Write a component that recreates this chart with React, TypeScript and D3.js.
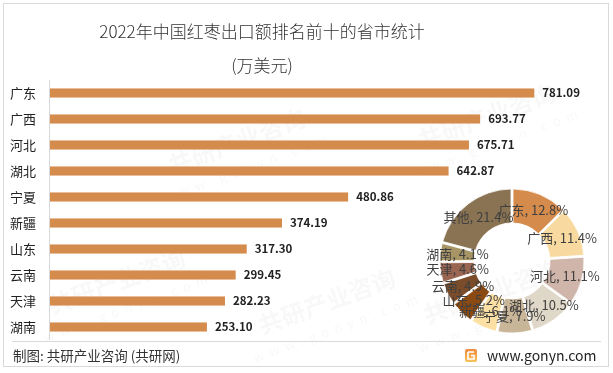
import { useEffect, useRef } from 'react';
import * as d3 from 'd3';

const provinces = ['广东', '广西', '河北', '湖北', '宁夏', '新疆', '山东', '云南', '天津', '湖南'];
const exportValues = [781.09, 693.77, 675.71, 642.87, 480.86, 374.19, 317.3, 299.45, 282.23, 253.1];

const shareNames = ['广东', '广西', '河北', '湖北', '宁夏', '新疆', '山东', '云南', '天津', '湖南', '其他'];
const sharePercents = [12.8, 11.4, 11.1, 10.5, 7.9, 6.1, 5.2, 4.9, 4.6, 4.1, 21.4];
const shareColors = ['#d48b4c', '#f8d9a0', '#d0b5aa', '#dfd7c7', '#c9b598', '#fcdfa3', '#8b4a12', '#7a4c2a', '#9a6652', '#a89565', '#8a7352'];

const width = 613;
const height = 373;
const font = '"Noto Sans CJK SC", "Noto Sans", sans-serif';

const App = () => {
  const ref = useRef<SVGSVGElement>(null);

  useEffect(() => {
    const svg = d3.select(ref.current);
    svg.selectAll('*').remove();

    // faint watermarks
    const wm = svg.append('g').attr('fill', '#000').attr('opacity', 0.03).attr('font-family', font);
    const spots = [[240, 150], [490, 125], [120, 290], [330, 310], [495, 300]];
    spots.forEach(([x, y]) => {
      wm.append('text')
        .attr('x', x).attr('y', y)
        .attr('transform', `rotate(-20, ${x}, ${y})`)
        .attr('font-size', 24).attr('font-weight', 'bold')
        .attr('text-anchor', 'middle')
        .text('共研产业咨询');
      wm.append('text')
        .attr('x', x + 10).attr('y', y + 22)
        .attr('transform', `rotate(-20, ${x + 10}, ${y + 22})`)
        .attr('font-size', 13).attr('letter-spacing', 6)
        .attr('text-anchor', 'middle')
        .text('www.gonyn.com');
    });

    // frame
    svg.append('rect')
      .attr('x', 3.5).attr('y', 3.5).attr('width', 605).attr('height', 363)
      .attr('fill', 'none').attr('stroke', '#d9d9d9');

    // title
    const title = svg.append('g').attr('font-family', font).attr('fill', '#333').attr('text-anchor', 'middle').attr('font-weight', 300);
    title.append('text').attr('x', 262).attr('y', 38).attr('font-size', 17).text('2022年中国红枣出口额排名前十的省市统计');
    title.append('text').attr('x', 262).attr('y', 72).attr('font-size', 17).text('(万美元)');

    // bars
    const x = d3.scaleLinear().domain([0, 900]).range([50, 608]);
    const y = d3.scaleBand().domain(provinces).range([80, 340]).paddingInner(0.65).paddingOuter(0.325);

    svg.append('line')
      .attr('x1', 49.5).attr('x2', 49.5).attr('y1', 80).attr('y2', 340)
      .attr('stroke', '#d9d9d9');

    const bars = svg.append('g');
    bars.selectAll('rect')
      .data(provinces)
      .join('rect')
      .attr('x', x(0))
      .attr('y', (d) => y(d)!)
      .attr('width', (d, i) => x(exportValues[i]) - x(0))
      .attr('height', y.bandwidth())
      .attr('fill', '#d48b4c');

    bars.selectAll('text.val')
      .data(provinces)
      .join('text')
      .attr('class', 'val')
      .attr('x', (d, i) => x(exportValues[i]) + 8)
      .attr('y', (d) => y(d)! + y.bandwidth() / 2)
      .attr('dy', '0.35em')
      .attr('font-family', font)
      .attr('font-size', 11.5)
      .attr('font-weight', 'bold')
      .attr('fill', '#222')
      .text((d, i) => exportValues[i].toFixed(2));

    bars.selectAll('text.cat')
      .data(provinces)
      .join('text')
      .attr('class', 'cat')
      .attr('x', 10)
      .attr('y', (d) => y(d)! + y.bandwidth() / 2)
      .attr('dy', '0.35em')
      .attr('font-family', font)
      .attr('font-size', 13)
      .attr('fill', '#222')
      .text((d) => d);

    // donut
    const pie = d3.pie<number>().sort(null).padAngle(0.025);
    const arcs = pie(sharePercents);
    const arc = d3.arc<d3.PieArcDatum<number>>().innerRadius(38).outerRadius(72);
    const donut = svg.append('g').attr('transform', 'translate(512, 261)');
    donut.selectAll('path')
      .data(arcs)
      .join('path')
      .attr('d', arc)
      .attr('fill', (d, i) => shareColors[i])
      .attr('stroke', '#fff')
      .attr('stroke-width', 0.8);
    donut.selectAll('text')
      .data(arcs)
      .join('text')
      .attr('transform', (d) => `translate(${arc.centroid(d)})`)
      .attr('text-anchor', 'middle')
      .attr('dy', '0.35em')
      .attr('font-family', font)
      .attr('font-size', 13)
      .attr('fill', '#404040')
      .text((d, i) => `${shareNames[i]}, ${sharePercents[i].toFixed(1)}%`);

    // footer
    svg.append('line')
      .attr('x1', 12).attr('x2', 601).attr('y1', 341.5).attr('y2', 341.5)
      .attr('stroke', '#d9d9d9');
    svg.append('text')
      .attr('x', 13).attr('y', 356).attr('dy', '0.35em')
      .attr('font-family', font).attr('font-size', 13.5).attr('fill', '#333')
      .text('制图: 共研产业咨询 (共研网)');

    const grad = svg.append('defs').append('linearGradient')
      .attr('id', 'logoGrad').attr('x1', 0).attr('y1', 0).attr('x2', 0).attr('y2', 1);
    grad.append('stop').attr('offset', '0%').attr('stop-color', '#f08a3c');
    grad.append('stop').attr('offset', '100%').attr('stop-color', '#f7c35a');
    const logo = svg.append('g').attr('transform', 'translate(465, 349)');
    logo.append('rect').attr('width', 12).attr('height', 13).attr('rx', 2).attr('fill', 'url(#logoGrad)');
    logo.append('path').attr('d', 'M3,3 H9 M3,3 V10 H9 V6.5 H6').attr('stroke', '#fff').attr('stroke-width', 1.6).attr('fill', 'none');
    svg.append('text')
      .attr('x', 487).attr('y', 356).attr('dy', '0.35em')
      .attr('font-family', font).attr('font-size', 14).attr('fill', '#222')
      .text('www.gonyn.com');
  }, []);

  return (
    <svg
      ref={ref}
      width={width}
      height={height}
      style={{ position: 'absolute', left: 0, top: 0, background: '#fff' }}
    />
  );
};

export default App;
